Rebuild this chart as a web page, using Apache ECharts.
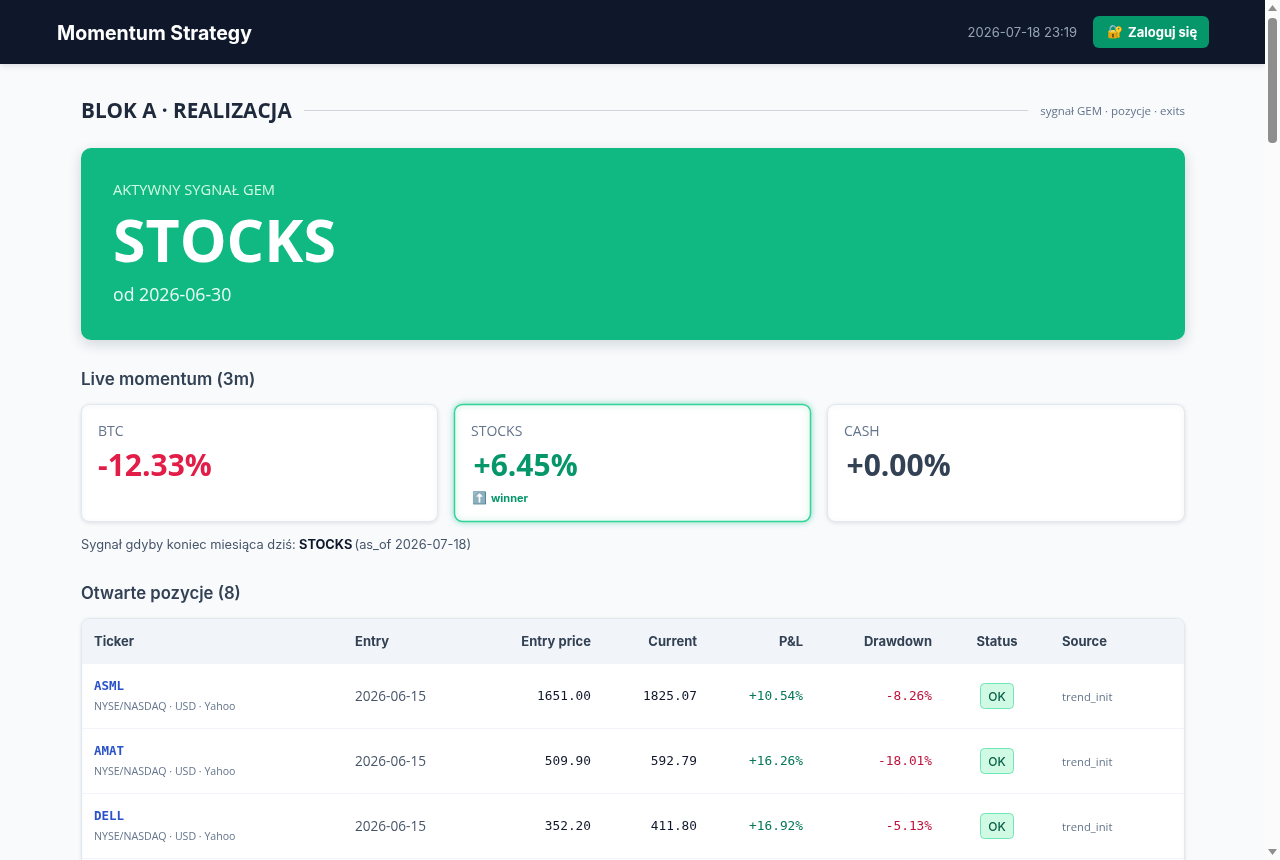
<!DOCTYPE html>
<html>
<head>
<meta charset="utf-8">
<title>Momentum Strategy</title>
<style>
	html, body { margin: 0; padding: 0; background: #f8fafc; overflow: hidden; }
	#main { width: 1280px; height: 860px; }
</style>
<script src="https://cdn.jsdelivr.net/npm/echarts@6/dist/echarts.min.js"></script>
</head>
<body>
<div id="main"></div>
<script>
var assets = ['BTC', 'STOCKS', 'CASH'];
var momentum = ['-12.33%', '+6.45%', '+0.00%'];
var columns = ['Ticker', 'Entry', 'Entry price', 'Current', 'P&L', 'Drawdown', 'Status', 'Source'];
var tickers = ['ASML', 'AMAT', 'DELL'];
var entryDates = ['2026-06-15', '2026-06-15', '2026-06-15'];
var entryPrices = ['1651.00', '509.90', '352.20'];
var currentPrices = ['1825.07', '592.79', '411.80'];
var pnl = ['+10.54%', '+16.26%', '+16.92%'];
var drawdown = ['-8.26%', '-18.01%', '-5.13%'];
var statuses = ['OK', 'OK', 'OK'];
var sources = ['trend_init', 'trend_init', 'trend_init'];

var SANS = '"Open Sans", sans-serif';
var INTER = 'Inter, sans-serif';
var MONO = '"DejaVu Sans Mono", monospace';

var els = [];

function text(x, y, str, font, fill, align) {
	els.push({
		type: 'text',
		style: {
			x: x, y: y, text: str, font: font, fill: fill,
			textAlign: align || 'left', textVerticalAlign: 'middle'
		}
	});
}

function box(x, y, w, h, r, fill, extra) {
	var style = {fill: fill};
	for (var k in extra) {
		style[k] = extra[k];
	}
	els.push({
		type: 'rect',
		shape: {x: x, y: y, width: w, height: h, r: r},
		style: style
	});
}

function hline(x1, x2, y, color) {
	els.push({
		type: 'line',
		shape: {x1: x1, y1: y, x2: x2, y2: y},
		style: {stroke: color, lineWidth: 1}
	});
}

// page and top bar
box(0, 0, 1280, 860, 0, '#f8fafc');
box(0, 0, 1265, 64, 0, '#0f172a', {shadowBlur: 6, shadowColor: 'rgba(15,23,42,0.12)', shadowOffsetY: 2});
text(57, 34, 'Momentum Strategy', '700 19.5px ' + INTER, '#ffffff');
text(1077, 33, '2026-07-18 23:19', '400 13px ' + INTER, '#94a3b8', 'right');
box(1093, 16, 116, 32, 6, '#059669');
text(1107, 32, '🔐', '13px "Noto Color Emoji", sans-serif', '#f59e0b');
text(1128, 33, 'Zaloguj się', '700 13px ' + INTER, '#ffffff');

// section title
text(81, 112, 'BLOK A · REALIZACJA', '700 20.7px ' + SANS, '#1e293b');
hline(304, 1028, 110.5, '#cfd4da');
text(1185, 112, 'sygnał GEM · pozycje · exits', '400 11.5px ' + SANS, '#64748b', 'right');

// signal hero
box(81, 148, 1104, 192, 10, '#10b981', {shadowBlur: 14, shadowColor: 'rgba(15,23,42,0.16)', shadowOffsetY: 4});
text(113, 191, 'AKTYWNY SYGNAŁ GEM', '400 14.7px ' + SANS, '#d1fae5');
text(113, 245, assets[1], '700 59px ' + SANS, '#ffffff');
text(113, 296, 'od 2026-06-30', '400 17.7px ' + SANS, '#ecfdf5');

// momentum cards
text(81, 380, 'Live momentum (3m)', '600 17px ' + INTER, '#334155');
var cardX = [81.5, 454.5, 827.5];
var cardColor = ['#e11d48', '#059669', '#334155'];
for (var i = 0; i < assets.length; i++) {
	var winner = assets[i] === 'STOCKS';
	box(cardX[i], 404.5, i === 2 ? 357 : 356, 117, 8, '#ffffff', {
		stroke: winner ? '#34d399' : '#e2e8f0',
		lineWidth: winner ? 1.5 : 1,
		shadowBlur: winner ? 6 : 4,
		shadowColor: winner ? 'rgba(16,185,129,0.4)' : 'rgba(15,23,42,0.1)',
		shadowOffsetY: winner ? 0 : 1
	});
	text(cardX[i] + 16.5, 432, assets[i], '400 14px ' + SANS, '#64748b');
	// the plus sign sits a little further in than the minus
	text(cardX[i] + (i === 0 ? 16.5 : 19), 467, momentum[i], '700 30px ' + SANS, cardColor[i]);
	if (winner) {
		text(cardX[i] + 18, 498, '⬆️', '12px "Noto Color Emoji", sans-serif', '#3b82f6');
		text(cardX[i] + 36.5, 499, 'winner', '700 11px ' + INTER, '#059669');
	}
}
text(81, 545, 'Sygnał gdyby koniec miesiąca dziś:', '400 12.8px ' + INTER, '#475569');
text(299, 545, assets[1], '700 12.8px ' + INTER, '#0f172a');
text(354.5, 545, '(as_of 2026-07-18)', '400 12.8px ' + INTER, '#475569');

// positions table
text(81, 594, 'Otwarte pozycje (8)', '600 16.7px ' + INTER, '#334155');
box(81.5, 618.5, 1103, 260, 8, '#ffffff', {stroke: '#e2e8f0', lineWidth: 1, shadowBlur: 4, shadowColor: 'rgba(15,23,42,0.08)', shadowOffsetY: 1});
box(82, 619, 1102, 45, [8, 8, 0, 0], '#f1f5f9');

var colX = [94, 355, 591, 697, 803, 932, 997, 1062];
var colAlign = ['left', 'left', 'right', 'right', 'right', 'right', 'center', 'left'];
for (var c = 0; c < columns.length; c++) {
	text(colX[c], 642, columns[c], '700 13px ' + INTER, '#334155', colAlign[c]);
}

for (var r = 0; r < tickers.length; r++) {
	var rowY = 664 + r * 65;
	text(colX[0], rowY + 23, tickers[r], '700 12.5px ' + MONO, '#2a52c9');
	text(colX[0], rowY + 43, 'NYSE/NASDAQ · USD · Yahoo', '400 10.6px ' + SANS, '#64748b');
	text(colX[1], rowY + 33, entryDates[r], '400 13.6px ' + SANS, '#475569');
	text(colX[2], rowY + 33, entryPrices[r], '400 12.8px ' + MONO, '#0f172a', 'right');
	text(colX[3], rowY + 33, currentPrices[r], '400 12.8px ' + MONO, '#0f172a', 'right');
	text(colX[4], rowY + 33, pnl[r], '400 12.8px ' + MONO, '#047857', 'right');
	text(colX[5], rowY + 33, drawdown[r], '400 12.8px ' + MONO, '#be123c', 'right');
	box(980.5, rowY + 19.5, 33, 25, 4, '#d1fae5', {stroke: '#6ee7b7', lineWidth: 1});
	text(colX[6], rowY + 33, statuses[r], '500 12px ' + INTER, '#065f46', 'center');
	text(colX[7], rowY + 34, sources[r], '400 11.3px ' + SANS, '#64748b');
	hline(82, 1184, rowY + 64.5, '#f1f5f9');
}

// scrollbar
box(1265, 0, 15, 860, 0, '#fbfbfb');
box(1268, 18, 9, 125, 4, '#8e8e8e');
els.push({type: 'polygon', shape: {points: [[1272.5, 5], [1268, 11], [1277, 11]]}, style: {fill: '#8e8e8e'}});
els.push({type: 'polygon', shape: {points: [[1272.5, 855], [1268, 849], [1277, 849]]}, style: {fill: '#8e8e8e'}});

var chart = echarts.init(document.getElementById('main'), null, {renderer: 'canvas'});
chart.setOption({
	animation: false,
	backgroundColor: '#f8fafc',
	graphic: {elements: els}
});
</script>
</body>
</html>
